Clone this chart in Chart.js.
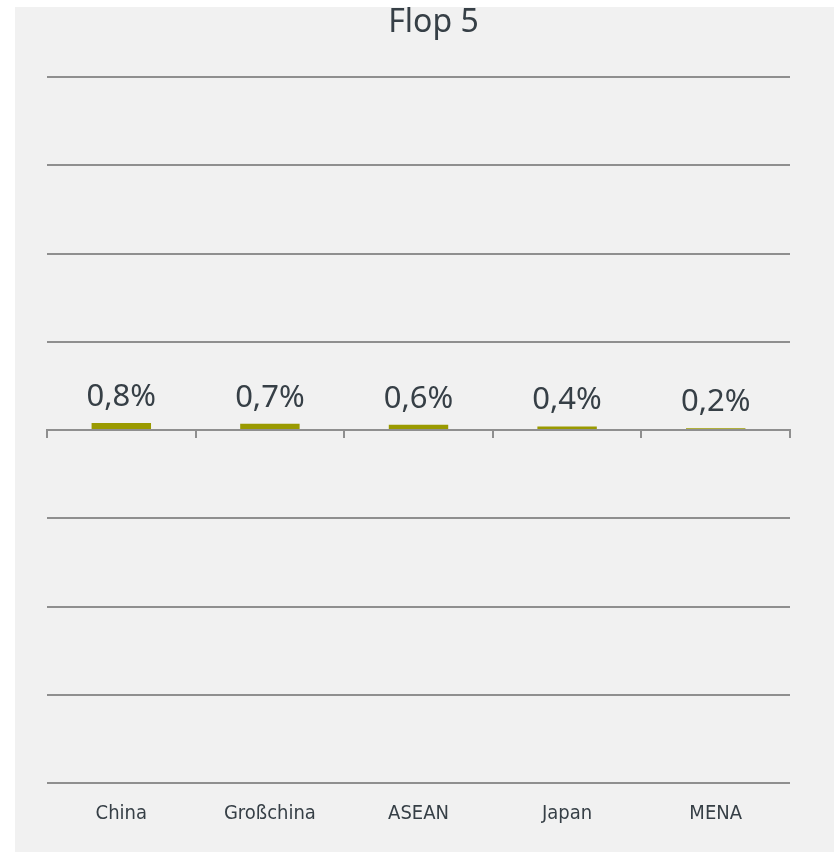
<!DOCTYPE html>
<html>
<head>
<meta charset="utf-8">
<script src="https://cdn.jsdelivr.net/npm/chart.js@4/dist/chart.umd.min.js"></script>
<style>
  html, body { margin: 0; padding: 0; background: #ffffff; }
  #wrap { position: relative; width: 834px; height: 852px; }
  #panel { position: absolute; left: 15px; top: 7px; right: 0; bottom: 0; background: #f1f1f1; }
  #chart { position: absolute; left: 0; top: 0; }
</style>
</head>
<body>
<div id="wrap">
  <div id="panel"></div>
  <canvas id="chart" width="834" height="852"></canvas>
</div>
<script>
// chart data
const chartTitle = 'Flop 5';
const categories = ['China', 'Großchina', 'ASEAN', 'Japan', 'MENA'];
const values = [0.8, 0.7, 0.6, 0.4, 0.2];
const yMin = -40;
const yMax = 40;
const yStep = 10;

const TEXT = '#363f46';
const GRID = '#8f8f8f';
const BAR = '#9a9a00';

function fmtPct(v) {
  return v.toFixed(1).replace('.', ',') + '%';
}

// value labels above each bar + the title (drawn over the plot, centred a bit right)
const labelPlugin = {
  id: 'flopLabels',
  afterDatasetsDraw(chart) {
    const ctx = chart.ctx;
    const meta = chart.getDatasetMeta(0);
    ctx.save();
    ctx.fillStyle = TEXT;
    ctx.font = '31px "Noto Sans", sans-serif';
    ctx.textAlign = 'center';
    ctx.textBaseline = 'alphabetic';
    meta.data.forEach((bar, i) => {
      ctx.fillText(fmtPct(values[i]), bar.x, bar.y - 17);
    });
    ctx.restore();
  },
  afterDraw(chart) {
    const ctx = chart.ctx;
    const area = chart.chartArea;
    ctx.save();
    ctx.fillStyle = TEXT;
    ctx.font = '32px "Noto Sans", sans-serif';
    ctx.textAlign = 'center';
    ctx.textBaseline = 'alphabetic';
    ctx.fillText(chartTitle, (area.left + area.right) / 2 + 15, 32);
    ctx.restore();
  }
};

new Chart(document.getElementById('chart'), {
  type: 'bar',
  data: {
    labels: categories,
    datasets: [{
      data: values,
      backgroundColor: BAR,
      borderWidth: 0,
      barPercentage: 0.4,
      categoryPercentage: 1.0
    }]
  },
  options: {
    responsive: false,
    animation: false,
    devicePixelRatio: 1,
    layout: { padding: { left: 47, right: 44, top: 77, bottom: 7 } },
    plugins: {
      legend: { display: false },
      title: { display: false },
      tooltip: { enabled: false }
    },
    scales: {
      x: {
        type: 'category',
        position: 'bottom',
        offset: true,
        grid: { display: false, drawTicks: false },
        border: { display: false },
        ticks: {
          color: TEXT,
          padding: 19,
          // 'condensed' goes into the canvas font shorthand before the size
          font: { family: '"DejaVu Sans", sans-serif', weight: 'condensed', size: 20 }
        }
      },
      x2: {
        type: 'category',
        axis: 'x',
        labels: categories,
        position: { y: 0 },
        offset: true,
        grid: { offset: true, drawOnChartArea: false, drawTicks: true, tickLength: 7, color: GRID, lineWidth: 2 },
        border: { display: true, color: GRID, width: 2 },
        ticks: { display: false }
      },
      y: {
        min: yMin,
        max: yMax,
        ticks: { display: false, stepSize: yStep },
        grid: { color: GRID, lineWidth: 2, drawTicks: false },
        border: { display: false }
      }
    }
  },
  plugins: [labelPlugin]
});
</script>
</body>
</html>
